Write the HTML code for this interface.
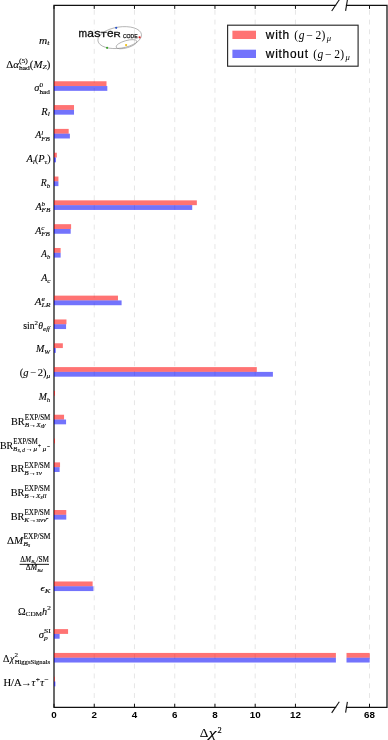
<!DOCTYPE html>
<html><head><meta charset="utf-8"><style>
html,body{margin:0;padding:0;background:#fff;}
svg{display:block;font-kerning:none;will-change:transform;}
text{fill:#000;}
.g{stroke:#e0e0e0;stroke-width:0.8;stroke-dasharray:4.9 4.86;stroke-dashoffset:0.41;fill:none;}
.sp{stroke:#111;stroke-width:1.25;fill:none;stroke-linecap:square;}
.tk{stroke:#111;stroke-width:1;}
.br{stroke:#111;stroke-width:1.1;}
.lb text{stroke:#000;stroke-width:0.1px;}
.lb text.sc{stroke-width:0.12px;}
</style></head><body>
<svg width="388" height="740" viewBox="0 0 388 740">
<rect width="388" height="740" fill="#fff"/>
<line x1="94.24" y1="707.3" x2="94.24" y2="5.4" class="g"/>
<line x1="134.48" y1="707.3" x2="134.48" y2="5.4" class="g"/>
<line x1="174.72" y1="707.3" x2="174.72" y2="5.4" class="g"/>
<line x1="214.96" y1="707.3" x2="214.96" y2="5.4" class="g"/>
<line x1="255.20" y1="707.3" x2="255.20" y2="5.4" class="g"/>
<line x1="295.44" y1="707.3" x2="295.44" y2="5.4" class="g"/>
<line x1="369.5" y1="707.3" x2="369.5" y2="5.4" class="g"/>
<path d="M335.5 5.4 H54.0 V707.3 H335.5" class="sp"/>
<path d="M346.5 5.4 H387.0 V707.3 H346.5" class="sp"/>
<rect x="54.0" y="81.25" width="52.51" height="4.8" fill="#ff0000" fill-opacity="0.55"/>
<rect x="54.0" y="86.05" width="53.32" height="4.8" fill="#0000fa" fill-opacity="0.55"/>
<rect x="54.0" y="105.07" width="20.02" height="4.8" fill="#ff0000" fill-opacity="0.55"/>
<rect x="54.0" y="109.87" width="20.02" height="4.8" fill="#0000fa" fill-opacity="0.55"/>
<rect x="54.0" y="128.89" width="14.69" height="4.8" fill="#ff0000" fill-opacity="0.55"/>
<rect x="54.0" y="133.69" width="15.89" height="4.8" fill="#0000fa" fill-opacity="0.55"/>
<rect x="54.0" y="152.71" width="2.82" height="4.8" fill="#ff0000" fill-opacity="0.55"/>
<rect x="54.0" y="157.51" width="2.01" height="4.8" fill="#0000fa" fill-opacity="0.55"/>
<rect x="54.0" y="176.53" width="4.43" height="4.8" fill="#ff0000" fill-opacity="0.55"/>
<rect x="54.0" y="181.33" width="4.43" height="4.8" fill="#0000fa" fill-opacity="0.55"/>
<rect x="54.0" y="200.35" width="142.85" height="4.8" fill="#ff0000" fill-opacity="0.55"/>
<rect x="54.0" y="205.15" width="138.22" height="4.8" fill="#0000fa" fill-opacity="0.55"/>
<rect x="54.0" y="224.17" width="17.10" height="4.8" fill="#ff0000" fill-opacity="0.55"/>
<rect x="54.0" y="228.97" width="16.70" height="4.8" fill="#0000fa" fill-opacity="0.55"/>
<rect x="54.0" y="247.99" width="6.64" height="4.8" fill="#ff0000" fill-opacity="0.55"/>
<rect x="54.0" y="252.79" width="6.64" height="4.8" fill="#0000fa" fill-opacity="0.55"/>
<rect x="54.0" y="295.63" width="63.98" height="4.8" fill="#ff0000" fill-opacity="0.55"/>
<rect x="54.0" y="300.43" width="67.60" height="4.8" fill="#0000fa" fill-opacity="0.55"/>
<rect x="54.0" y="319.45" width="12.47" height="4.8" fill="#ff0000" fill-opacity="0.55"/>
<rect x="54.0" y="324.25" width="12.07" height="4.8" fill="#0000fa" fill-opacity="0.55"/>
<rect x="54.0" y="343.27" width="8.85" height="4.8" fill="#ff0000" fill-opacity="0.55"/>
<rect x="54.0" y="348.07" width="1.81" height="4.8" fill="#0000fa" fill-opacity="0.55"/>
<rect x="54.0" y="367.09" width="202.81" height="4.8" fill="#ff0000" fill-opacity="0.55"/>
<rect x="54.0" y="371.89" width="218.91" height="4.8" fill="#0000fa" fill-opacity="0.55"/>
<rect x="54.0" y="390.91" width="1.01" height="4.8" fill="#ff0000" fill-opacity="0.55"/>
<rect x="54.0" y="414.73" width="10.06" height="4.8" fill="#ff0000" fill-opacity="0.55"/>
<rect x="54.0" y="419.53" width="12.07" height="4.8" fill="#0000fa" fill-opacity="0.55"/>
<rect x="54.0" y="438.55" width="1.01" height="4.8" fill="#ff0000" fill-opacity="0.55"/>
<rect x="54.0" y="462.37" width="6.04" height="4.8" fill="#ff0000" fill-opacity="0.55"/>
<rect x="54.0" y="467.17" width="5.63" height="4.8" fill="#0000fa" fill-opacity="0.55"/>
<rect x="54.0" y="510.01" width="12.27" height="4.8" fill="#ff0000" fill-opacity="0.55"/>
<rect x="54.0" y="514.81" width="12.27" height="4.8" fill="#0000fa" fill-opacity="0.55"/>
<rect x="54.0" y="581.47" width="38.63" height="4.8" fill="#ff0000" fill-opacity="0.55"/>
<rect x="54.0" y="586.27" width="39.44" height="4.8" fill="#0000fa" fill-opacity="0.55"/>
<rect x="54.0" y="629.11" width="14.08" height="4.8" fill="#ff0000" fill-opacity="0.55"/>
<rect x="54.0" y="633.91" width="5.63" height="4.8" fill="#0000fa" fill-opacity="0.55"/>
<rect x="54.0" y="652.93" width="281.90" height="4.8" fill="#ff0000" fill-opacity="0.55"/>
<rect x="54.0" y="657.73" width="281.90" height="4.8" fill="#0000fa" fill-opacity="0.55"/>
<rect x="346.5" y="652.93" width="23.20" height="4.8" fill="#ff0000" fill-opacity="0.55"/>
<rect x="346.5" y="657.73" width="23.20" height="4.8" fill="#0000fa" fill-opacity="0.55"/>
<rect x="54.0" y="676.75" width="0.80" height="4.8" fill="#ff0000" fill-opacity="0.55"/>
<rect x="54.0" y="681.55" width="1.41" height="4.8" fill="#0000fa" fill-opacity="0.55"/>
<line x1="54.00" y1="707.3" x2="54.00" y2="703.8" class="tk"/>
<line x1="54.00" y1="5.4" x2="54.00" y2="8.9" class="tk"/>
<line x1="94.24" y1="707.3" x2="94.24" y2="703.8" class="tk"/>
<line x1="94.24" y1="5.4" x2="94.24" y2="8.9" class="tk"/>
<line x1="134.48" y1="707.3" x2="134.48" y2="703.8" class="tk"/>
<line x1="134.48" y1="5.4" x2="134.48" y2="8.9" class="tk"/>
<line x1="174.72" y1="707.3" x2="174.72" y2="703.8" class="tk"/>
<line x1="174.72" y1="5.4" x2="174.72" y2="8.9" class="tk"/>
<line x1="214.96" y1="707.3" x2="214.96" y2="703.8" class="tk"/>
<line x1="214.96" y1="5.4" x2="214.96" y2="8.9" class="tk"/>
<line x1="255.20" y1="707.3" x2="255.20" y2="703.8" class="tk"/>
<line x1="255.20" y1="5.4" x2="255.20" y2="8.9" class="tk"/>
<line x1="295.44" y1="707.3" x2="295.44" y2="703.8" class="tk"/>
<line x1="295.44" y1="5.4" x2="295.44" y2="8.9" class="tk"/>
<line x1="369.5" y1="707.3" x2="369.5" y2="703.8" class="tk"/>
<line x1="369.5" y1="5.4" x2="369.5" y2="8.9" class="tk"/>
<line x1="331.70" y1="11.00" x2="339.30" y2="-0.20" class="br"/>
<line x1="345.60" y1="10.80" x2="347.40" y2="0.00" class="br"/>
<line x1="331.70" y1="712.90" x2="339.30" y2="701.70" class="br"/>
<line x1="345.60" y1="712.70" x2="347.40" y2="701.90" class="br"/>
<text x="54.00" y="718.20" font-family="Liberation Sans" font-weight="bold" font-size="9.8" text-anchor="middle">0</text>
<text x="94.24" y="718.20" font-family="Liberation Sans" font-weight="bold" font-size="9.8" text-anchor="middle">2</text>
<text x="134.48" y="718.20" font-family="Liberation Sans" font-weight="bold" font-size="9.8" text-anchor="middle">4</text>
<text x="174.72" y="718.20" font-family="Liberation Sans" font-weight="bold" font-size="9.8" text-anchor="middle">6</text>
<text x="214.96" y="718.20" font-family="Liberation Sans" font-weight="bold" font-size="9.8" text-anchor="middle">8</text>
<text x="255.20" y="718.20" font-family="Liberation Sans" font-weight="bold" font-size="9.8" text-anchor="middle">10</text>
<text x="295.44" y="718.20" font-family="Liberation Sans" font-weight="bold" font-size="9.8" text-anchor="middle">12</text>
<text x="369.50" y="718.20" font-family="Liberation Sans" font-weight="bold" font-size="9.8" text-anchor="middle">68</text>
<g class="lb">
<text x="199.80" y="737.40" font-family="Liberation Serif" font-size="13.2" textLength="8.6" lengthAdjust="spacingAndGlyphs">Δ</text>
<text x="208.60" y="737.40" font-family="Liberation Serif" font-style="italic" font-size="13.2" textLength="8.0" lengthAdjust="spacingAndGlyphs">χ</text>
<text x="217.60" y="732.90" font-family="Liberation Serif" class="sc" font-size="8.4">2</text>
</g>
<g class="lb" transform="translate(39.002 43.710) scale(1.1498 1)">
<text x="0.00" y="0.00" font-family="Liberation Serif" font-style="italic" font-size="9.9">m</text>
<text x="7.15" y="1.00" font-family="Liberation Serif" font-style="italic" class="sc" font-size="7.0">t</text>
</g>
<g class="lb" transform="translate(6.349 67.730) scale(1.0860 1)">
<text x="0.00" y="0.00" font-family="Liberation Serif" font-size="9.9">Δ</text>
<text x="6.37" y="0.00" font-family="Liberation Serif" font-style="italic" font-size="9.9">α</text>
<text x="11.56" y="-4.50" font-family="Liberation Serif" class="sc" font-size="7.0">(5)</text>
<text x="11.56" y="2.70" font-family="Liberation Serif" class="sc" font-size="7.0">had</text>
<text x="21.67" y="0.00" font-family="Liberation Serif" font-size="9.9">(</text>
<text x="24.97" y="0.00" font-family="Liberation Serif" font-style="italic" font-size="9.9">M</text>
<text x="33.21" y="1.20" font-family="Liberation Serif" font-style="italic" class="sc" font-size="7.0">Z</text>
<text x="37.11" y="0.00" font-family="Liberation Serif" font-size="9.9">)</text>
</g>
<g class="lb" transform="translate(34.361 91.050) scale(1.0365 1)">
<text x="0.00" y="0.00" font-family="Liberation Serif" font-style="italic" font-size="9.9">σ</text>
<text x="4.88" y="-4.20" font-family="Liberation Serif" class="sc" font-size="7.0">0</text>
<text x="4.88" y="2.50" font-family="Liberation Serif" class="sc" font-size="7.0">had</text>
</g>
<g class="lb" transform="translate(41.210 114.770) scale(1.0689 1)">
<text x="0.00" y="0.00" font-family="Liberation Serif" font-style="italic" font-size="9.9">R</text>
<text x="6.05" y="1.20" font-family="Liberation Serif" font-style="italic" class="sc" font-size="7.0">l</text>
</g>
<g class="lb" transform="translate(35.221 138.490) scale(1.0081 1)">
<text x="0.00" y="0.00" font-family="Liberation Serif" font-style="italic" font-size="9.9">A</text>
<text x="6.05" y="-3.90" font-family="Liberation Serif" font-style="italic" class="sc" font-size="7.0">l</text>
<text x="6.05" y="2.10" font-family="Liberation Serif" font-style="italic" class="sc" font-size="7.0">FB</text>
</g>
<g class="lb" transform="translate(26.404 162.310) scale(1.0462 1)">
<text x="0.00" y="0.00" font-family="Liberation Serif" font-style="italic" font-size="9.9">A</text>
<text x="6.05" y="1.20" font-family="Liberation Serif" font-style="italic" class="sc" font-size="7.0">l</text>
<text x="7.99" y="0.00" font-family="Liberation Serif" font-size="9.9">(</text>
<text x="11.29" y="0.00" font-family="Liberation Serif" font-style="italic" font-size="9.9">P</text>
<text x="17.34" y="1.20" font-family="Liberation Serif" font-style="italic" class="sc" font-size="7.0">τ</text>
<text x="19.84" y="0.00" font-family="Liberation Serif" font-size="9.9">)</text>
</g>
<g class="lb" transform="translate(40.716 186.430) scale(0.9948 1)">
<text x="0.00" y="0.00" font-family="Liberation Serif" font-style="italic" font-size="9.9">R</text>
<text x="6.05" y="1.20" font-family="Liberation Serif" font-style="italic" class="sc" font-size="7.0">b</text>
</g>
<g class="lb" transform="translate(35.417 210.150) scale(1.0264 1)">
<text x="0.00" y="0.00" font-family="Liberation Serif" font-style="italic" font-size="9.9">A</text>
<text x="6.05" y="-3.90" font-family="Liberation Serif" font-style="italic" class="sc" font-size="7.0">b</text>
<text x="6.05" y="2.10" font-family="Liberation Serif" font-style="italic" class="sc" font-size="7.0">FB</text>
</g>
<g class="lb" transform="translate(35.221 233.870) scale(1.0081 1)">
<text x="0.00" y="0.00" font-family="Liberation Serif" font-style="italic" font-size="9.9">A</text>
<text x="6.05" y="-3.90" font-family="Liberation Serif" font-style="italic" class="sc" font-size="7.0">c</text>
<text x="6.05" y="2.10" font-family="Liberation Serif" font-style="italic" class="sc" font-size="7.0">FB</text>
</g>
<g class="lb" transform="translate(41.273 257.490) scale(0.9348 1)">
<text x="0.00" y="0.00" font-family="Liberation Serif" font-style="italic" font-size="9.9">A</text>
<text x="6.05" y="1.20" font-family="Liberation Serif" font-style="italic" class="sc" font-size="7.0">b</text>
</g>
<g class="lb" transform="translate(41.207 281.410) scale(1.0135 1)">
<text x="0.00" y="0.00" font-family="Liberation Serif" font-style="italic" font-size="9.9">A</text>
<text x="6.05" y="1.20" font-family="Liberation Serif" font-style="italic" class="sc" font-size="7.0">c</text>
</g>
<g class="lb" transform="translate(34.674 305.030) scale(1.1102 1)">
<text x="0.00" y="0.00" font-family="Liberation Serif" font-style="italic" font-size="9.9">A</text>
<text x="6.05" y="-3.90" font-family="Liberation Serif" font-style="italic" class="sc" font-size="7.0">e</text>
<text x="6.05" y="2.10" font-family="Liberation Serif" font-style="italic" class="sc" font-size="7.0">LR</text>
</g>
<g class="lb" transform="translate(23.263 329.350) scale(0.9815 1)">
<text x="0.00" y="0.00" font-family="Liberation Serif" font-size="9.9">sin</text>
<text x="11.55" y="-4.60" font-family="Liberation Serif" class="sc" font-size="7.0">2</text>
<text x="15.35" y="0.00" font-family="Liberation Serif" font-style="italic" font-size="9.9">θ</text>
<text x="20.22" y="1.30" font-family="Liberation Serif" font-style="italic" class="sc" font-size="7.0">eff</text>
</g>
<g class="lb" transform="translate(36.021 352.470) scale(1.0081 1)">
<text x="0.00" y="0.00" font-family="Liberation Serif" font-style="italic" font-size="9.9">M</text>
<text x="8.25" y="1.30" font-family="Liberation Serif" font-style="italic" class="sc" font-size="7.0">W</text>
</g>
<g class="lb" transform="translate(19.726 376.290) scale(1.0629 1)">
<text x="0.00" y="0.00" font-family="Liberation Serif" font-size="9.9">(</text>
<text x="3.30" y="0.00" font-family="Liberation Serif" font-style="italic" font-size="9.9">g</text>
<text x="9.85" y="0.00" font-family="Liberation Serif" font-size="9.9">−</text>
<text x="17.03" y="0.00" font-family="Liberation Serif" font-size="9.9">2</text>
<text x="21.98" y="0.00" font-family="Liberation Serif" font-size="9.9">)</text>
<text x="25.28" y="1.30" font-family="Liberation Serif" font-style="italic" class="sc" font-size="7.0">μ</text>
</g>
<g class="lb" transform="translate(38.734 400.310) scale(0.9814 1)">
<text x="0.00" y="0.00" font-family="Liberation Serif" font-style="italic" font-size="9.9">M</text>
<text x="8.25" y="1.30" font-family="Liberation Serif" font-style="italic" class="sc" font-size="7.0">h</text>
</g>
<g class="lb" transform="translate(10.994 424.530) scale(1.0345 1)">
<text x="0.00" y="0.00" font-family="Liberation Serif" font-size="9.9">BR</text>
<text x="13.41" y="-4.90" font-family="Liberation Serif" class="sc" font-size="7.4" textLength="24.60" lengthAdjust="spacingAndGlyphs">EXP/SM</text>
<text x="13.21" y="2.20" font-family="Liberation Serif" font-style="italic" class="sc" font-size="7.0">B</text>
<text x="17.48" y="2.20" font-family="Liberation Serif" class="sc" font-size="7.0">→</text>
<text x="24.48" y="2.20" font-family="Liberation Serif" font-style="italic" class="sc" font-size="7.0">X</text>
<text x="28.76" y="3.20" font-family="Liberation Serif" font-style="italic" class="sc" font-size="5.2">s</text>
<text x="30.78" y="2.20" font-family="Liberation Serif" font-style="italic" class="sc" font-size="7.0">γ</text>
</g>
<g class="lb" transform="translate(-0.088 448.550) scale(1.0000 1)">
<text x="0.00" y="0.00" font-family="Liberation Serif" font-size="9.9">BR</text>
<text x="13.41" y="-4.90" font-family="Liberation Serif" class="sc" font-size="7.4" textLength="24.60" lengthAdjust="spacingAndGlyphs">EXP/SM</text>
<text x="13.21" y="2.20" font-family="Liberation Serif" font-style="italic" class="sc" font-size="7.0">B</text>
<text x="17.78" y="3.20" font-family="Liberation Serif" font-style="italic" class="sc" font-size="5.2">s, d</text>
<text x="25.81" y="2.20" font-family="Liberation Serif" class="sc" font-size="7.0">→</text>
<text x="33.61" y="2.20" font-family="Liberation Serif" font-style="italic" class="sc" font-size="7.0">μ</text>
<text x="38.12" y="-0.30" font-family="Liberation Serif" class="sc" font-size="5.2">+</text>
<text x="42.85" y="2.20" font-family="Liberation Serif" font-style="italic" class="sc" font-size="7.0">μ</text>
<text x="47.37" y="-0.30" font-family="Liberation Serif" class="sc" font-size="5.2">−</text>
</g>
<g class="lb" transform="translate(10.631 472.470) scale(1.0382 1)">
<text x="0.00" y="0.00" font-family="Liberation Serif" font-size="9.9">BR</text>
<text x="13.41" y="-4.90" font-family="Liberation Serif" class="sc" font-size="7.4" textLength="24.60" lengthAdjust="spacingAndGlyphs">EXP/SM</text>
<text x="13.21" y="2.20" font-family="Liberation Serif" font-style="italic" class="sc" font-size="7.0">B</text>
<text x="17.48" y="2.20" font-family="Liberation Serif" class="sc" font-size="7.0">→</text>
<text x="24.48" y="2.20" font-family="Liberation Serif" font-style="italic" class="sc" font-size="7.0">τν</text>
</g>
<g class="lb" transform="translate(10.631 495.990) scale(1.0382 1)">
<text x="0.00" y="0.00" font-family="Liberation Serif" font-size="9.9">BR</text>
<text x="13.41" y="-4.90" font-family="Liberation Serif" class="sc" font-size="7.4" textLength="24.60" lengthAdjust="spacingAndGlyphs">EXP/SM</text>
<text x="13.21" y="2.20" font-family="Liberation Serif" font-style="italic" class="sc" font-size="7.0">B</text>
<text x="17.48" y="2.20" font-family="Liberation Serif" class="sc" font-size="7.0">→</text>
<text x="24.48" y="2.20" font-family="Liberation Serif" font-style="italic" class="sc" font-size="7.0">X</text>
<text x="28.76" y="3.20" font-family="Liberation Serif" font-style="italic" class="sc" font-size="5.2">s</text>
<text x="30.78" y="2.20" font-family="Liberation Serif" font-style="italic" class="sc" font-size="7.0">ll</text>
</g>
<g class="lb" transform="translate(10.631 520.210) scale(1.0382 1)">
<text x="0.00" y="0.00" font-family="Liberation Serif" font-size="9.9">BR</text>
<text x="13.41" y="-4.90" font-family="Liberation Serif" class="sc" font-size="7.4" textLength="24.60" lengthAdjust="spacingAndGlyphs">EXP/SM</text>
<text x="13.21" y="2.20" font-family="Liberation Serif" font-style="italic" class="sc" font-size="7.0">K</text>
<text x="17.88" y="2.20" font-family="Liberation Serif" class="sc" font-size="7.0">→</text>
<text x="24.88" y="2.20" font-family="Liberation Serif" font-style="italic" class="sc" font-size="7.0">πν</text>
<text x="31.49" y="2.20" font-family="Liberation Serif" font-style="italic" class="sc" font-size="7.0">ν̄</text>
</g>
<g class="lb" transform="translate(7.054 543.630) scale(1.1032 1)">
<text x="0.00" y="0.00" font-family="Liberation Serif" font-size="9.9">Δ</text>
<text x="6.37" y="0.00" font-family="Liberation Serif" font-style="italic" font-size="9.9">M</text>
<text x="14.81" y="-4.50" font-family="Liberation Serif" class="sc" font-size="7.4" textLength="24.60" lengthAdjust="spacingAndGlyphs">EXP/SM</text>
<text x="14.61" y="2.40" font-family="Liberation Serif" font-style="italic" class="sc" font-size="7.0">B</text>
<text x="18.89" y="3.60" font-family="Liberation Serif" font-style="italic" class="sc" font-size="5.2">s</text>
</g>
<g class="lb" transform="translate(40.493 591.370) scale(1.2206 1)">
<text x="0.00" y="0.00" font-family="Liberation Serif" font-style="italic" font-size="8.6">ϵ</text>
<text x="3.46" y="1.50" font-family="Liberation Serif" font-style="italic" class="sc" font-size="7.0">K</text>
</g>
<g class="lb" transform="translate(17.895 614.890) scale(1.0390 1)">
<text x="0.00" y="0.00" font-family="Liberation Serif" font-size="9.9">Ω</text>
<text x="7.36" y="1.30" font-family="Liberation Serif" class="sc" font-size="7.0">CDM</text>
<text x="23.31" y="0.00" font-family="Liberation Serif" font-style="italic" font-size="9.9">h</text>
<text x="28.26" y="-4.40" font-family="Liberation Serif" class="sc" font-size="7.0">2</text>
</g>
<g class="lb" transform="translate(38.678 637.810) scale(1.0825 1)">
<text x="0.00" y="0.00" font-family="Liberation Serif" font-style="italic" font-size="9.9">σ</text>
<text x="4.88" y="-4.60" font-family="Liberation Serif" class="sc" font-size="7.0">SI</text>
<text x="4.88" y="2.40" font-family="Liberation Serif" font-style="italic" class="sc" font-size="7.0">p</text>
</g>
<g class="lb" transform="translate(2.962 661.530) scale(1.0086 1)">
<text x="0.00" y="0.00" font-family="Liberation Serif" font-size="9.9">Δ</text>
<text x="6.97" y="0.00" font-family="Liberation Serif" font-style="italic" font-size="9.4">χ</text>
<text x="11.40" y="-4.60" font-family="Liberation Serif" class="sc" font-size="7.0">2</text>
<text x="11.60" y="2.20" font-family="Liberation Serif" class="sc" font-size="6.6">HiggsSignals</text>
</g>
<g class="lb" transform="translate(3.406 686.450) scale(1.0756 1)">
<text x="0.00" y="0.00" font-family="Liberation Serif" font-size="9.9">H/A</text>
<text x="16.45" y="0.00" font-family="Liberation Serif" font-size="9.9">→</text>
<text x="26.15" y="0.00" font-family="Liberation Serif" font-style="italic" font-size="9.9">τ</text>
<text x="29.99" y="-4.00" font-family="Liberation Serif" class="sc" font-size="7.0">+</text>
<text x="34.34" y="0.00" font-family="Liberation Serif" font-style="italic" font-size="9.9">τ</text>
<text x="38.18" y="-4.00" font-family="Liberation Serif" class="sc" font-size="7.0">−</text>
</g>
<g class="lb" transform="translate(20.3 561.65) scale(1.0117 1)">
<text x="0.00" y="0.00" font-family="Liberation Serif" class="sc" font-size="7.2">Δ</text>
<text x="4.63" y="0.00" font-family="Liberation Serif" font-style="italic" class="sc" font-size="7.2">M</text>
<text x="10.83" y="1.20" font-family="Liberation Serif" font-style="italic" class="sc" font-size="5.0">B</text>
<text x="13.88" y="2.00" font-family="Liberation Serif" font-style="italic" class="sc" font-size="3.8">s</text>
<text x="15.96" y="0.00" font-family="Liberation Serif" class="sc" font-size="7.2">/SM</text>
</g>
<g class="lb" transform="translate(25.8 570.45) scale(1.0645 1)">
<text x="0.00" y="0.00" font-family="Liberation Serif" class="sc" font-size="7.2">Δ</text>
<text x="4.63" y="0.00" font-family="Liberation Serif" font-style="italic" class="sc" font-size="7.2">M</text>
<text x="10.83" y="1.20" font-family="Liberation Serif" font-style="italic" class="sc" font-size="5.0">B</text>
<text x="13.88" y="2.00" font-family="Liberation Serif" font-style="italic" class="sc" font-size="3.8">d</text>
</g>
<line x1="19.6" y1="564.35" x2="49.0" y2="564.35" stroke="#000" stroke-width="0.9"/>
<rect x="227.6" y="25.2" width="130.5" height="41.0" fill="#fff" stroke="#2a2a2a" stroke-width="1.15"/>
<rect x="232.4" y="30.7" width="23.6" height="8.3" fill="#ff0000" fill-opacity="0.55"/>
<rect x="232.4" y="49.7" width="23.6" height="8.3" fill="#0000fa" fill-opacity="0.55"/>
<text x="265.8" y="38.9" font-family="Liberation Sans" font-size="11.9" letter-spacing="0.75" stroke="#000" stroke-width="0.2">with</text>
<text x="294.36" y="38.90" font-family="Liberation Serif" font-size="11.5">(</text>
<text x="298.79" y="38.90" font-family="Liberation Serif" font-style="italic" font-size="11.5">g</text>
<text x="306.14" y="38.90" font-family="Liberation Serif" font-size="11.5">−</text>
<text x="315.43" y="38.90" font-family="Liberation Serif" font-size="11.5">2</text>
<text x="321.48" y="38.90" font-family="Liberation Serif" font-size="11.5">)</text>
<text x="326.81" y="41.20" font-family="Liberation Serif" font-style="italic" font-size="8.6">μ</text>
<text x="265.8" y="57.8" font-family="Liberation Sans" font-size="11.9" letter-spacing="0.75" stroke="#000" stroke-width="0.2">without</text>
<text x="313.16" y="57.80" font-family="Liberation Serif" font-size="11.5">(</text>
<text x="317.59" y="57.80" font-family="Liberation Serif" font-style="italic" font-size="11.5">g</text>
<text x="324.94" y="57.80" font-family="Liberation Serif" font-size="11.5">−</text>
<text x="334.22" y="57.80" font-family="Liberation Serif" font-size="11.5">2</text>
<text x="340.27" y="57.80" font-family="Liberation Serif" font-size="11.5">)</text>
<text x="345.60" y="60.10" font-family="Liberation Serif" font-style="italic" font-size="8.6">μ</text>
<g>
<ellipse cx="119.7" cy="37.6" rx="22" ry="10.6" transform="rotate(-8.5 119.7 37.6)" fill="none" stroke="#8a8a8a" stroke-width="0.6"/>
<ellipse cx="126.5" cy="44.2" rx="10.8" ry="3.6" transform="rotate(-16 126.5 44.2)" fill="none" stroke="#8a8a8a" stroke-width="0.6"/>
<text x="78.6" y="37.1" font-family="Liberation Sans" font-size="11.2" textLength="8.6" lengthAdjust="spacingAndGlyphs" fill="#1a1a1a" stroke="#1a1a1a" stroke-width="0.3">m</text>
<text x="87.3" y="37.1" font-family="Liberation Sans" font-size="11.2" textLength="6.7" lengthAdjust="spacingAndGlyphs" fill="#1a1a1a" stroke="#1a1a1a" stroke-width="0.3">a</text>
<text x="94.3" y="37.1" font-family="Liberation Sans" font-size="11.2" textLength="6.3" lengthAdjust="spacingAndGlyphs" fill="#1a1a1a" stroke="#1a1a1a" stroke-width="0.3">s</text>
<text x="100.4" y="37.1" font-family="Liberation Sans" font-size="7.9" textLength="6.3" lengthAdjust="spacingAndGlyphs" fill="#1a1a1a" stroke="#1a1a1a" stroke-width="0.3">T</text>
<text x="106.9" y="37.1" font-family="Liberation Sans" font-size="11.2" textLength="6.6" lengthAdjust="spacingAndGlyphs" fill="#1a1a1a" stroke="#1a1a1a" stroke-width="0.3">e</text>
<text x="113.4" y="37.1" font-family="Liberation Sans" font-size="7.9" textLength="7.2" lengthAdjust="spacingAndGlyphs" fill="#1a1a1a" stroke="#1a1a1a" stroke-width="0.3">R</text>
<text x="122.9" y="37.9" font-family="Liberation Sans" font-size="5.8" textLength="14.8" lengthAdjust="spacingAndGlyphs" fill="#222" stroke="#222" stroke-width="0.25">CODE</text>
<circle cx="116.2" cy="27.8" r="1.1" fill="#2a52c8"/>
<circle cx="139.6" cy="37.3" r="1.1" fill="#e02020"/>
<circle cx="107.1" cy="47.8" r="1.1" fill="#3aa02a"/>
<circle cx="126.1" cy="45.1" r="1.1" fill="#f0c010"/>
</g>
</svg>
</body></html>
